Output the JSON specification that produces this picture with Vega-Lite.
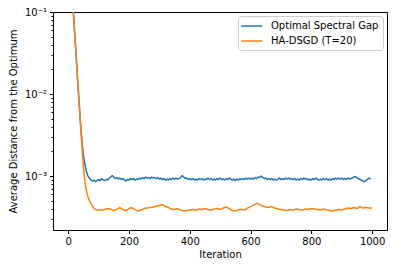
{
  "$schema": "https://vega.github.io/schema/vega-lite/v6.json",
  "width": 334,
  "height": 218,
  "autosize": "none",
  "padding": {"left": 53, "top": 12, "right": 7, "bottom": 38},
  "config": {
    "view": {"stroke": "#000", "strokeWidth": 1},
    "font": "DejaVu Sans",
    "axis": {"labelFont": "DejaVu Sans", "titleFont": "DejaVu Sans", "labelFontSize": 10, "titleFontSize": 10, "titleFontWeight": "normal", "labelColor": "#000", "titleColor": "#000", "tickColor": "#000", "domain": false, "grid": false}
  },
  "datasets": {
    "blue": [
      {"iteration": 0, "distance": 1.0}, {"iteration": 5, "distance": 0.51}, {"iteration": 10, "distance": 0.26}, {"iteration": 15, "distance": 0.13}, {"iteration": 20, "distance": 0.066}, {"iteration": 25, "distance": 0.034}, {"iteration": 30, "distance": 0.017}, {"iteration": 35, "distance": 0.0088}, {"iteration": 40, "distance": 0.0047}, {"iteration": 45, "distance": 0.0027}, {"iteration": 50, "distance": 0.0018}, {"iteration": 55, "distance": 0.0014}, {"iteration": 60, "distance": 0.00113}, {"iteration": 65, "distance": 0.00100}, {"iteration": 70, "distance": 0.00094},
      {"iteration": 75, "distance": 0.0008938}, {"iteration": 80, "distance": 0.0008690}, {"iteration": 85, "distance": 0.0008938}, {"iteration": 90, "distance": 0.0008569}, {"iteration": 95, "distance": 0.0008813},
      {"iteration": 100, "distance": 0.0009064}, {"iteration": 105, "distance": 0.0008813}, {"iteration": 110, "distance": 0.0009322}, {"iteration": 115, "distance": 0.0009064}, {"iteration": 120, "distance": 0.0008813}, {"iteration": 125, "distance": 0.0009064}, {"iteration": 130, "distance": 0.0008938}, {"iteration": 135, "distance": 0.0009454}, {"iteration": 140, "distance": 0.0009723}, {"iteration": 145, "distance": 0.0010142},
      {"iteration": 150, "distance": 0.0009723}, {"iteration": 155, "distance": 0.0009322}, {"iteration": 160, "distance": 0.0009587}, {"iteration": 165, "distance": 0.0009192}, {"iteration": 170, "distance": 0.0009454}, {"iteration": 175, "distance": 0.0009064}, {"iteration": 180, "distance": 0.0009322}, {"iteration": 185, "distance": 0.0008938}, {"iteration": 190, "distance": 0.0008690}, {"iteration": 195, "distance": 0.0009064},
      {"iteration": 200, "distance": 0.0008938}, {"iteration": 205, "distance": 0.0009322}, {"iteration": 210, "distance": 0.0009064}, {"iteration": 215, "distance": 0.0009322}, {"iteration": 220, "distance": 0.0008938}, {"iteration": 225, "distance": 0.0009192}, {"iteration": 230, "distance": 0.0009064}, {"iteration": 235, "distance": 0.0009454}, {"iteration": 240, "distance": 0.0009192}, {"iteration": 245, "distance": 0.0009587},
      {"iteration": 250, "distance": 0.0009322}, {"iteration": 255, "distance": 0.0009723}, {"iteration": 260, "distance": 0.0009454}, {"iteration": 265, "distance": 0.0009587}, {"iteration": 270, "distance": 0.0009322}, {"iteration": 275, "distance": 0.0009723}, {"iteration": 280, "distance": 0.0009454}, {"iteration": 285, "distance": 0.0009587}, {"iteration": 290, "distance": 0.0009322}, {"iteration": 295, "distance": 0.0009587},
      {"iteration": 300, "distance": 0.0009192}, {"iteration": 305, "distance": 0.0009454}, {"iteration": 310, "distance": 0.0009064}, {"iteration": 315, "distance": 0.0009322}, {"iteration": 320, "distance": 0.0008938}, {"iteration": 325, "distance": 0.0009192}, {"iteration": 330, "distance": 0.0008938}, {"iteration": 335, "distance": 0.0009322}, {"iteration": 340, "distance": 0.0009064}, {"iteration": 345, "distance": 0.0009454},
      {"iteration": 350, "distance": 0.0009192}, {"iteration": 355, "distance": 0.0009454}, {"iteration": 360, "distance": 0.0009192}, {"iteration": 365, "distance": 0.0009322}, {"iteration": 370, "distance": 0.0009587}, {"iteration": 375, "distance": 0.0010142}, {"iteration": 380, "distance": 0.0009723}, {"iteration": 385, "distance": 0.0009322}, {"iteration": 390, "distance": 0.0009454}, {"iteration": 395, "distance": 0.0009064},
      {"iteration": 400, "distance": 0.0009322}, {"iteration": 405, "distance": 0.0009064}, {"iteration": 410, "distance": 0.0009322}, {"iteration": 415, "distance": 0.0008938}, {"iteration": 420, "distance": 0.0009192}, {"iteration": 425, "distance": 0.0008938}, {"iteration": 430, "distance": 0.0009322}, {"iteration": 435, "distance": 0.0009064}, {"iteration": 440, "distance": 0.0009322}, {"iteration": 445, "distance": 0.0008938},
      {"iteration": 450, "distance": 0.0009192}, {"iteration": 455, "distance": 0.0009064}, {"iteration": 460, "distance": 0.0009454}, {"iteration": 465, "distance": 0.0009064}, {"iteration": 470, "distance": 0.0009322}, {"iteration": 475, "distance": 0.0008938}, {"iteration": 480, "distance": 0.0009192}, {"iteration": 485, "distance": 0.0008938}, {"iteration": 490, "distance": 0.0009322}, {"iteration": 495, "distance": 0.0009064},
      {"iteration": 500, "distance": 0.0009454}, {"iteration": 505, "distance": 0.0009064}, {"iteration": 510, "distance": 0.0009192}, {"iteration": 515, "distance": 0.0008938}, {"iteration": 520, "distance": 0.0009322}, {"iteration": 525, "distance": 0.0009064}, {"iteration": 530, "distance": 0.0009454}, {"iteration": 535, "distance": 0.0009192}, {"iteration": 540, "distance": 0.0008938}, {"iteration": 545, "distance": 0.0009192},
      {"iteration": 550, "distance": 0.0008813}, {"iteration": 555, "distance": 0.0009192}, {"iteration": 560, "distance": 0.0008938}, {"iteration": 565, "distance": 0.0009322}, {"iteration": 570, "distance": 0.0009064}, {"iteration": 575, "distance": 0.0009322}, {"iteration": 580, "distance": 0.0009064}, {"iteration": 585, "distance": 0.0009454}, {"iteration": 590, "distance": 0.0009192}, {"iteration": 595, "distance": 0.0009454},
      {"iteration": 600, "distance": 0.0009192}, {"iteration": 605, "distance": 0.0009454}, {"iteration": 610, "distance": 0.0009192}, {"iteration": 615, "distance": 0.0009587}, {"iteration": 620, "distance": 0.0009322}, {"iteration": 625, "distance": 0.0009723}, {"iteration": 630, "distance": 0.0009587}, {"iteration": 635, "distance": 0.0010000}, {"iteration": 640, "distance": 0.0009587}, {"iteration": 645, "distance": 0.0009322},
      {"iteration": 650, "distance": 0.0009454}, {"iteration": 655, "distance": 0.0009064}, {"iteration": 660, "distance": 0.0009322}, {"iteration": 665, "distance": 0.0009064}, {"iteration": 670, "distance": 0.0009322}, {"iteration": 675, "distance": 0.0008938}, {"iteration": 680, "distance": 0.0009192}, {"iteration": 685, "distance": 0.0008938}, {"iteration": 690, "distance": 0.0009192}, {"iteration": 695, "distance": 0.0009454},
      {"iteration": 700, "distance": 0.0009064}, {"iteration": 705, "distance": 0.0009322}, {"iteration": 710, "distance": 0.0009064}, {"iteration": 715, "distance": 0.0009454}, {"iteration": 720, "distance": 0.0009192}, {"iteration": 725, "distance": 0.0009454}, {"iteration": 730, "distance": 0.0009192}, {"iteration": 735, "distance": 0.0009322}, {"iteration": 740, "distance": 0.0009064}, {"iteration": 745, "distance": 0.0009322},
      {"iteration": 750, "distance": 0.0008938}, {"iteration": 755, "distance": 0.0009192}, {"iteration": 760, "distance": 0.0008938}, {"iteration": 765, "distance": 0.0009322}, {"iteration": 770, "distance": 0.0009064}, {"iteration": 775, "distance": 0.0009454}, {"iteration": 780, "distance": 0.0009192}, {"iteration": 785, "distance": 0.0009322}, {"iteration": 790, "distance": 0.0008938}, {"iteration": 795, "distance": 0.0009192},
      {"iteration": 800, "distance": 0.0008938}, {"iteration": 805, "distance": 0.0009322}, {"iteration": 810, "distance": 0.0009064}, {"iteration": 815, "distance": 0.0009454}, {"iteration": 820, "distance": 0.0009192}, {"iteration": 825, "distance": 0.0008938}, {"iteration": 830, "distance": 0.0009192}, {"iteration": 835, "distance": 0.0008938}, {"iteration": 840, "distance": 0.0009322}, {"iteration": 845, "distance": 0.0009064},
      {"iteration": 850, "distance": 0.0009322}, {"iteration": 855, "distance": 0.0008938}, {"iteration": 860, "distance": 0.0009192}, {"iteration": 865, "distance": 0.0008938}, {"iteration": 870, "distance": 0.0009322}, {"iteration": 875, "distance": 0.0009064}, {"iteration": 880, "distance": 0.0009454}, {"iteration": 885, "distance": 0.0009192}, {"iteration": 890, "distance": 0.0009454}, {"iteration": 895, "distance": 0.0009192},
      {"iteration": 900, "distance": 0.0009454}, {"iteration": 905, "distance": 0.0009064}, {"iteration": 910, "distance": 0.0009322}, {"iteration": 915, "distance": 0.0009064}, {"iteration": 920, "distance": 0.0009454}, {"iteration": 925, "distance": 0.0009192}, {"iteration": 930, "distance": 0.0009322}, {"iteration": 935, "distance": 0.0009454}, {"iteration": 940, "distance": 0.0009723}, {"iteration": 945, "distance": 0.0009860},
      {"iteration": 950, "distance": 0.0009587}, {"iteration": 955, "distance": 0.0009322}, {"iteration": 960, "distance": 0.0009064}, {"iteration": 965, "distance": 0.0008938}, {"iteration": 970, "distance": 0.0008690}, {"iteration": 975, "distance": 0.0008569}, {"iteration": 980, "distance": 0.0008813}, {"iteration": 985, "distance": 0.0009192}, {"iteration": 990, "distance": 0.0009454}, {"iteration": 995, "distance": 0.0009192}
    ],
    "orange": [
      {"iteration": 0, "distance": 1.0}, {"iteration": 5, "distance": 0.51}, {"iteration": 10, "distance": 0.26}, {"iteration": 15, "distance": 0.13}, {"iteration": 20, "distance": 0.066}, {"iteration": 25, "distance": 0.034}, {"iteration": 30, "distance": 0.017}, {"iteration": 35, "distance": 0.0088}, {"iteration": 40, "distance": 0.0046}, {"iteration": 45, "distance": 0.0024}, {"iteration": 50, "distance": 0.0013}, {"iteration": 55, "distance": 0.00085}, {"iteration": 60, "distance": 0.00066}, {"iteration": 65, "distance": 0.00056}, {"iteration": 70, "distance": 0.00050}, {"iteration": 75, "distance": 0.00046}, {"iteration": 80, "distance": 0.00043}, {"iteration": 85, "distance": 0.000405}, {"iteration": 90, "distance": 0.00039}, {"iteration": 95, "distance": 0.000385},
      {"iteration": 100, "distance": 0.0003849}, {"iteration": 110, "distance": 0.0003849}, {"iteration": 120, "distance": 0.0003904}, {"iteration": 130, "distance": 0.0004015}, {"iteration": 140, "distance": 0.0003959}, {"iteration": 150, "distance": 0.0003796}, {"iteration": 160, "distance": 0.0003959}, {"iteration": 170, "distance": 0.0004129}, {"iteration": 180, "distance": 0.0003904}, {"iteration": 190, "distance": 0.0003796},
      {"iteration": 200, "distance": 0.0004015}, {"iteration": 210, "distance": 0.0004129}, {"iteration": 220, "distance": 0.0003904}, {"iteration": 230, "distance": 0.0003743}, {"iteration": 240, "distance": 0.0003849}, {"iteration": 250, "distance": 0.0004015}, {"iteration": 260, "distance": 0.0004072}, {"iteration": 270, "distance": 0.0004129}, {"iteration": 280, "distance": 0.0004188}, {"iteration": 290, "distance": 0.0004307},
      {"iteration": 300, "distance": 0.0004367}, {"iteration": 310, "distance": 0.0004492}, {"iteration": 320, "distance": 0.0004247}, {"iteration": 330, "distance": 0.0004129}, {"iteration": 340, "distance": 0.0003959}, {"iteration": 350, "distance": 0.0003904}, {"iteration": 360, "distance": 0.0004015}, {"iteration": 370, "distance": 0.0003849}, {"iteration": 380, "distance": 0.0003743}, {"iteration": 390, "distance": 0.0003796},
      {"iteration": 400, "distance": 0.0003849}, {"iteration": 410, "distance": 0.0003904}, {"iteration": 420, "distance": 0.0003849}, {"iteration": 430, "distance": 0.0003959}, {"iteration": 440, "distance": 0.0003904}, {"iteration": 450, "distance": 0.0004015}, {"iteration": 460, "distance": 0.0003904}, {"iteration": 470, "distance": 0.0003849}, {"iteration": 480, "distance": 0.0003959}, {"iteration": 490, "distance": 0.0004015},
      {"iteration": 500, "distance": 0.0003904}, {"iteration": 510, "distance": 0.0004072}, {"iteration": 520, "distance": 0.0004188}, {"iteration": 530, "distance": 0.0004015}, {"iteration": 540, "distance": 0.0003796}, {"iteration": 550, "distance": 0.0003743}, {"iteration": 560, "distance": 0.0003904}, {"iteration": 570, "distance": 0.0003904}, {"iteration": 580, "distance": 0.0003849}, {"iteration": 590, "distance": 0.0004072},
      {"iteration": 600, "distance": 0.0004247}, {"iteration": 610, "distance": 0.0004429}, {"iteration": 620, "distance": 0.0004640}, {"iteration": 630, "distance": 0.0004492}, {"iteration": 640, "distance": 0.0004307}, {"iteration": 650, "distance": 0.0004188}, {"iteration": 660, "distance": 0.0004129}, {"iteration": 670, "distance": 0.0004247}, {"iteration": 680, "distance": 0.0004072}, {"iteration": 690, "distance": 0.0003959},
      {"iteration": 700, "distance": 0.0003904}, {"iteration": 710, "distance": 0.0003849}, {"iteration": 720, "distance": 0.0003796}, {"iteration": 730, "distance": 0.0003904}, {"iteration": 740, "distance": 0.0003849}, {"iteration": 750, "distance": 0.0003959}, {"iteration": 760, "distance": 0.0003904}, {"iteration": 770, "distance": 0.0003849}, {"iteration": 780, "distance": 0.0003959}, {"iteration": 790, "distance": 0.0003904},
      {"iteration": 800, "distance": 0.0004015}, {"iteration": 810, "distance": 0.0003959}, {"iteration": 820, "distance": 0.0003904}, {"iteration": 830, "distance": 0.0003849}, {"iteration": 840, "distance": 0.0003959}, {"iteration": 850, "distance": 0.0003849}, {"iteration": 860, "distance": 0.0003796}, {"iteration": 870, "distance": 0.0003743}, {"iteration": 880, "distance": 0.0003849}, {"iteration": 890, "distance": 0.0003904},
      {"iteration": 900, "distance": 0.0003849}, {"iteration": 910, "distance": 0.0003959}, {"iteration": 920, "distance": 0.0004072}, {"iteration": 930, "distance": 0.0004015}, {"iteration": 940, "distance": 0.0004129}, {"iteration": 950, "distance": 0.0004015}, {"iteration": 960, "distance": 0.0004247}, {"iteration": 970, "distance": 0.0004072}, {"iteration": 980, "distance": 0.0004129}, {"iteration": 990, "distance": 0.0004072}, {"iteration": 999, "distance": 0.0004072}
    ]
  },
  "layer": [
    {
      "data": {"name": "blue"},
      "mark": {"type": "line", "clip": true, "strokeWidth": 1.5, "strokeJoin": "round"},
      "encoding": {
        "x": {"field": "iteration", "type": "quantitative", "scale": {"domain": [-50, 1049], "nice": false, "zero": false},
              "axis": {"values": [0, 200, 400, 600, 800, 1000], "format": "d", "title": "Iteration", "tickSize": 3.5, "labelPadding": 3, "titlePadding": 3, "labelFlush": false}},
        "y": {"field": "distance", "type": "quantitative", "scale": {"type": "log", "domain": [0.00022, 0.1], "nice": false},
              "axis": {"values": [0.0003, 0.0004, 0.0005, 0.0006, 0.0007, 0.0008, 0.0009, 0.001, 0.002, 0.003, 0.004, 0.005, 0.006, 0.007, 0.008, 0.009, 0.01, 0.02, 0.03, 0.04, 0.05, 0.06, 0.07, 0.08, 0.09, 0.1],
                       "title": "Average Distance from the Optimum", "labelPadding": 3, "titlePadding": 6, "labelFlush": false, "labelOverlap": false,
                       "tickSize": {"condition": {"test": "abs(log(datum.value)/LN10 - round(log(datum.value)/LN10)) < 0.001", "value": 3.5}, "value": 2},
                       "labelExpr": "abs(log(datum.value)/LN10 - round(log(datum.value)/LN10)) < 0.001 ? (datum.value > 0.05 ? '10⁻¹' : datum.value > 0.005 ? '10⁻²' : '10⁻³') : ''"}},
        "color": {"datum": "Optimal Spectral Gap", "type": "nominal",
                  "scale": {"domain": ["Optimal Spectral Gap", "HA-DSGD (T=20)"], "range": ["#1f77b4", "#ff7f0e"]},
                  "legend": {"title": null, "orient": "top-right", "offset": 4, "padding": 4, "strokeColor": "#cccccc", "cornerRadius": 3, "fillColor": "rgba(255,255,255,0.8)",
                             "symbolType": "M-1.34,0H2.86", "symbolStrokeWidth": 1.5, "symbolSize": 100, "labelFont": "DejaVu Sans", "labelFontSize": 10, "labelColor": "#000", "labelOffset": 17, "rowPadding": 4}}
      }
    },
    {
      "data": {"name": "orange"},
      "mark": {"type": "line", "clip": true, "strokeWidth": 1.5, "strokeJoin": "round"},
      "encoding": {
        "x": {"field": "iteration", "type": "quantitative"},
        "y": {"field": "distance", "type": "quantitative"},
        "color": {"datum": "HA-DSGD (T=20)", "type": "nominal"}
      }
    }
  ]
}
